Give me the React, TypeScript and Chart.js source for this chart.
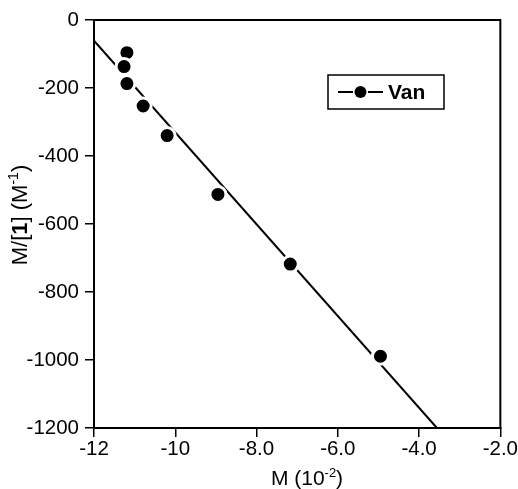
import React, { useEffect, useRef } from "react";
import { Chart, registerables } from "chart.js";

Chart.register(...registerables);

const vanX = [-11.19, -11.26, -11.19, -10.79, -10.2, -8.95, -7.17, -4.95];
const vanY = [-96, -137, -187, -253, -340, -513, -718, -989];
const fitX = [-12, -3.56];
const fitY = [-61, -1200];
const xTickValues = [-12, -10, -8, -6, -4, -2];
const xTickLabels = ["-12", "-10", "-8.0", "-6.0", "-4.0", "-2.0"];
const yTickValues = [0, -200, -400, -600, -800, -1000, -1200];
const yTickLabels = ["0", "-200", "-400", "-600", "-800", "-1000", "-1200"];
const legendLabel = "Van";

const FONT = "'Liberation Sans', Arial, Helvetica, sans-serif";

type Part = { t: string; bold?: boolean; sup?: boolean };

function drawParts(ctx: CanvasRenderingContext2D, parts: Part[], size: number, cx: number, baseline: number) {
  const fontFor = (p: Part) =>
    `${p.bold ? "bold " : ""}${p.sup ? Math.round(size * 0.62) : size}px ${FONT}`;
  let total = 0;
  for (const p of parts) {
    ctx.font = fontFor(p);
    total += ctx.measureText(p.t).width;
  }
  let x = cx - total / 2;
  ctx.textAlign = "left";
  ctx.textBaseline = "alphabetic";
  for (const p of parts) {
    ctx.font = fontFor(p);
    ctx.fillText(p.t, x, p.sup ? baseline - size * 0.4 : baseline);
    x += ctx.measureText(p.t).width;
  }
}

const framePlugin = {
  id: "frameAndTitles",
  afterDraw(chart: any) {
    const { ctx, chartArea } = chart;
    ctx.save();
    ctx.strokeStyle = "#000";
    ctx.lineWidth = 2;
    ctx.strokeRect(chartArea.left, chartArea.top, chartArea.right - chartArea.left, chartArea.bottom - chartArea.top);
    ctx.fillStyle = "#000";
    // x title
    drawParts(
      ctx,
      [{ t: "M (10" }, { t: "-2", sup: true }, { t: ")" }],
      21,
      307,
      485
    );
    // y title
    ctx.save();
    ctx.translate(27, 215);
    ctx.rotate(-Math.PI / 2);
    drawParts(
      ctx,
      [{ t: "M/[" }, { t: "1", bold: true }, { t: "] (M" }, { t: "-1", sup: true }, { t: ")" }],
      22,
      0,
      0
    );
    ctx.restore();
    // legend
    const bx = 328, by = 75, bw = 116, bh = 34;
    ctx.fillStyle = "#fff";
    ctx.fillRect(bx, by, bw, bh);
    ctx.strokeStyle = "#000";
    ctx.lineWidth = 1.5;
    ctx.strokeRect(bx, by, bw, bh);
    const ly = by + 17;
    ctx.lineWidth = 2;
    ctx.beginPath();
    ctx.moveTo(338, ly);
    ctx.lineTo(353, ly);
    ctx.moveTo(368, ly);
    ctx.lineTo(383, ly);
    ctx.stroke();
    ctx.fillStyle = "#000";
    ctx.beginPath();
    ctx.arc(360.5, ly, 6, 0, Math.PI * 2);
    ctx.fill();
    ctx.font = `bold 21px ${FONT}`;
    ctx.textAlign = "left";
    ctx.textBaseline = "middle";
    ctx.fillText(legendLabel, 388, ly + 1);
    ctx.restore();
  },
};

export default function App() {
  const ref = useRef<HTMLCanvasElement | null>(null);
  useEffect(() => {
    if (!ref.current) return;
    const chart = new Chart(ref.current, {
      type: "scatter",
      data: {
        datasets: [
          {
            label: legendLabel,
            data: vanX.map((x, i) => ({ x, y: vanY[i] })),
            backgroundColor: "#000",
            borderColor: "#fff",
            borderWidth: 3,
            pointRadius: 8,
            pointHoverRadius: 8,
            showLine: false,
          },
          {
            label: "fit",
            data: fitX.map((x, i) => ({ x, y: fitY[i] })),
            showLine: true,
            borderColor: "#000",
            borderWidth: 2,
            pointRadius: 0,
            fill: false,
          },
        ],
      },
      options: {
        responsive: false,
        animation: false,
        devicePixelRatio: 1,
        layout: { padding: { top: 20, right: 16, left: 0, bottom: 0 } },
        plugins: { legend: { display: false }, tooltip: { enabled: false } },
        scales: {
          x: {
            type: "linear",
            min: -12,
            max: -2,
            afterFit: (s: any) => {
              s.height = 61;
            },
            afterBuildTicks: (s: any) => {
              s.ticks = xTickValues.map((v) => ({ value: v }));
            },
            ticks: {
              color: "#000",
              font: { family: FONT, size: 20.5 },
              padding: 0,
              maxRotation: 0,
              callback: (v: any) => {
                const i = xTickValues.indexOf(Number(v));
                return i >= 0 ? xTickLabels[i] : "";
              },
            },
            grid: { drawOnChartArea: false, drawTicks: true, tickLength: 9, color: "#000", lineWidth: 1.5 },
            border: { display: true, color: "#000", width: 2 },
          },
          y: {
            type: "linear",
            min: -1200,
            max: 0,
            afterFit: (s: any) => {
              s.width = 94;
            },
            afterBuildTicks: (s: any) => {
              s.ticks = yTickValues.map((v) => ({ value: v }));
            },
            ticks: {
              color: "#000",
              font: { family: FONT, size: 20.5 },
              padding: 6,
              callback: (v: any) => {
                const i = yTickValues.indexOf(Number(v));
                return i >= 0 ? yTickLabels[i] : "";
              },
            },
            grid: { drawOnChartArea: false, drawTicks: true, tickLength: 9, color: "#000", lineWidth: 1.5 },
            border: { display: true, color: "#000", width: 2 },
          },
        },
      },
      plugins: [framePlugin],
    } as any);
    return () => chart.destroy();
  }, []);
  return (
    <div style={{ position: "fixed", left: 0, top: 0, width: 518, height: 489, background: "#fff" }}>
      <canvas ref={ref} width={518} height={489} style={{ width: 518, height: 489, display: "block" }} />
    </div>
  );
}
